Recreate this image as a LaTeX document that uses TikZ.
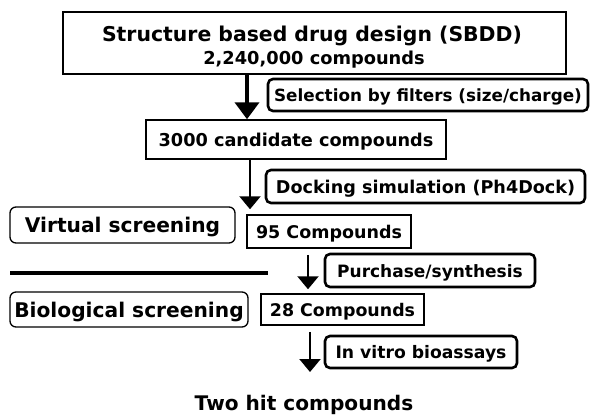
\documentclass[tikz,border=0pt]{standalone}
\usepackage{fontspec}
\setmainfont{DejaVu Sans}
\usetikzlibrary{arrows.meta}
\newcommand{\fsz}[1]{\fontsize{#1}{#1}\selectfont}
\tikzset{
  plainbox/.style={draw, line width=1.5pt, inner sep=0pt, text height=16.5pt, text depth=3pt},
  roundthin/.style={plainbox, line width=1.3pt, rounded corners=6pt},
  roundthick/.style={plainbox, line width=2.6pt, rounded corners=5pt},
  bigarrow/.style={line width=4.5pt, -{Triangle[width=24pt,length=17pt]}},
  smallarrow/.style={line width=2.2pt, -{Triangle[width=21pt,length=13pt]}},
  sepline/.style={line width=3.5pt},
  bigtxt/.style={font=\bfseries\fsz{20.2}, text height=18.3pt, text depth=3pt},
  midtxt/.style={font=\bfseries\fsz{17.5}},
}
\begin{document}
\begin{tikzpicture}[x=1pt,y=-1pt]
\useasboundingbox (0,0) rectangle (593,416);
% top box
\node[plainbox, minimum width=503pt, minimum height=62pt] (top) at (314.5,43) {};
\node[font=\bfseries\fsz{20.4}, anchor=base, inner sep=0pt] (title) at (312,41) {Structure based drug design (SBDD)};
\node[font=\bfseries\fsz{17.8}, anchor=base, inner sep=0pt] (sub) at (314,64) {2,240,000 compounds};
% boxes
\node[roundthick, font=\bfseries\fsz{16.8}, minimum width=320pt, minimum height=32pt] (sel) at (428,95) {Selection by filters (size/charge)};
\node[plainbox, font=\bfseries\fsz{17.7}, minimum width=300pt, minimum height=39pt] (c3000) at (296,139.5) {3000 candidate compounds};
\node[roundthick, font=\bfseries\fsz{17.6}, minimum width=319pt, minimum height=33pt] (dock) at (425.5,186.5) {Docking simulation (Ph4Dock)};
\node[roundthin, bigtxt, minimum width=225pt, minimum height=36pt] (vs) at (122.5,225) {Virtual screening};
\node[plainbox, midtxt, minimum width=164pt, minimum height=33pt] (c95) at (329,231.5) {95 Compounds};
\node[roundthick, font=\bfseries\fsz{17.0}, minimum width=210pt, minimum height=33pt] (purch) at (430,270.5) {Purchase/synthesis};
\node[roundthin, bigtxt, minimum width=238pt, minimum height=35pt] (bs) at (129,309.5) {Biological screening};
\node[plainbox, font=\bfseries\fsz{17.4}, minimum width=163pt, minimum height=31pt] (c28) at (342.5,309.5) {28 Compounds};
\node[roundthick, font=\bfseries\fsz{17.2}, minimum width=192pt, minimum height=32pt] (vitro) at (421,352) {In vitro bioassays};
\node[font=\bfseries\fsz{20.1}, anchor=base, inner sep=0pt] (two) at (304,410) {Two hit compounds};
% separator line
\coordinate (lineA) at (10,273);
\coordinate (lineB) at (268,273);
\draw[sepline] (lineA) -- (lineB);
% arrows
\coordinate (a4end) at (310,372);
\draw[bigarrow] (top.south -| 247,0) -- (c3000.north -| 247,0);
\draw[smallarrow, shorten >=5pt] (c3000.south -| 250,0) -- (c95.north -| 250,0);
\draw[smallarrow, shorten <=6pt, shorten >=4pt] (c95.south -| 308,0) -- (c28.north -| 308,0);
\draw[smallarrow, shorten <=6pt] (c28.south -| 310,0) -- (a4end);
\end{tikzpicture}
\end{document}
